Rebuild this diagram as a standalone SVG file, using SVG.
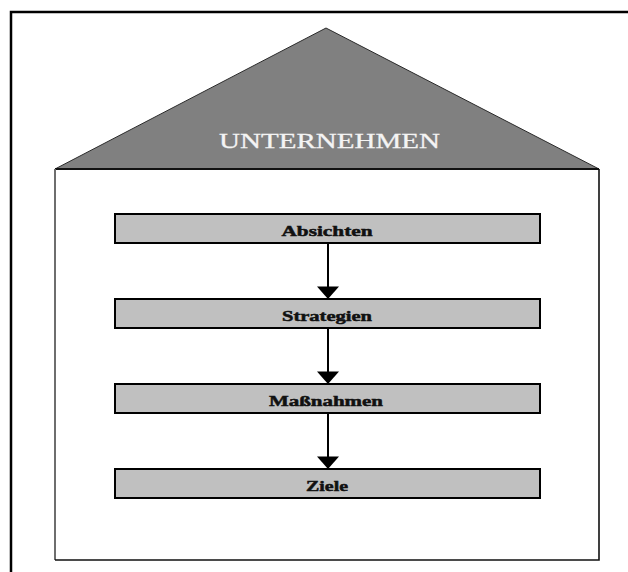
<svg xmlns="http://www.w3.org/2000/svg" width="628" height="572" viewBox="0 0 628 572">
  <style>
    .frame { fill: none; stroke: #000; stroke-width: 2.5; }
    .wall { fill: none; stroke: #111; stroke-width: 1.6; }
    .wall-left { fill: none; stroke: #6e6e6e; stroke-width: 2; }
    .roof { fill: #808080; stroke: #2a2a2a; stroke-width: 1; }
    .eaves { fill: none; stroke: #111; stroke-width: 2; }
    .roof-label { font-family: "Liberation Serif", "Times New Roman", serif; font-size: 22px; fill: #f4f4f4; stroke: #f4f4f4; stroke-width: 0.3; }
    .step rect { fill: #c0c0c0; stroke: #000; stroke-width: 2; }
    .step text { font-family: "Liberation Serif", "Times New Roman", serif; font-size: 15px; font-weight: bold; fill: #111; stroke: #111; stroke-width: 0.5; text-anchor: middle; }
    .link { stroke: #000; stroke-width: 2; fill: none; marker-end: url(#head); }
  </style>
  <defs>
    <marker id="head" markerUnits="userSpaceOnUse" markerWidth="22" markerHeight="13" refX="10.5" refY="12" orient="0" viewBox="0 0 21 12">
      <path d="M0,0 L21,0 L10.5,12 Z" fill="#000"/>
    </marker>
  </defs>

  <rect width="628" height="572" fill="#fff"/>

  <!-- page frame (top and left edges) -->
  <path class="frame" d="M11,572 V12 H628"/>

  <!-- house -->
  <g id="house">
    <polygon class="roof" points="55,169 326,28 599,169"/>
    <line class="eaves" x1="55" y1="169" x2="599" y2="169"/>
    <line class="wall-left" x1="55" y1="169" x2="55" y2="560"/>
    <path class="wall" d="M55,560 H599 V169"/>
    <text class="roof-label" x="219" y="148" textLength="221" lengthAdjust="spacingAndGlyphs">UNTERNEHMEN</text>
  </g>

  <!-- connectors -->
  <g id="connectors">
    <line class="link" x1="328" y1="243" x2="328" y2="299"/>
    <line class="link" x1="328" y1="328" x2="328" y2="384"/>
    <line class="link" x1="328" y1="413" x2="328" y2="469"/>
  </g>

  <!-- steps -->
  <g id="absichten" class="step">
    <rect x="115" y="214" width="425" height="29"/>
    <text x="327" y="236" textLength="91" lengthAdjust="spacingAndGlyphs">Absichten</text>
  </g>
  <g id="strategien" class="step">
    <rect x="115" y="299" width="425" height="29"/>
    <text x="327" y="321" textLength="90" lengthAdjust="spacingAndGlyphs">Strategien</text>
  </g>
  <g id="massnahmen" class="step">
    <rect x="115" y="384" width="425" height="29"/>
    <text x="326" y="406" textLength="114" lengthAdjust="spacingAndGlyphs">Maßnahmen</text>
  </g>
  <g id="ziele" class="step">
    <rect x="115" y="469" width="425" height="29"/>
    <text x="327" y="491" textLength="42" lengthAdjust="spacingAndGlyphs">Ziele</text>
  </g>
</svg>
